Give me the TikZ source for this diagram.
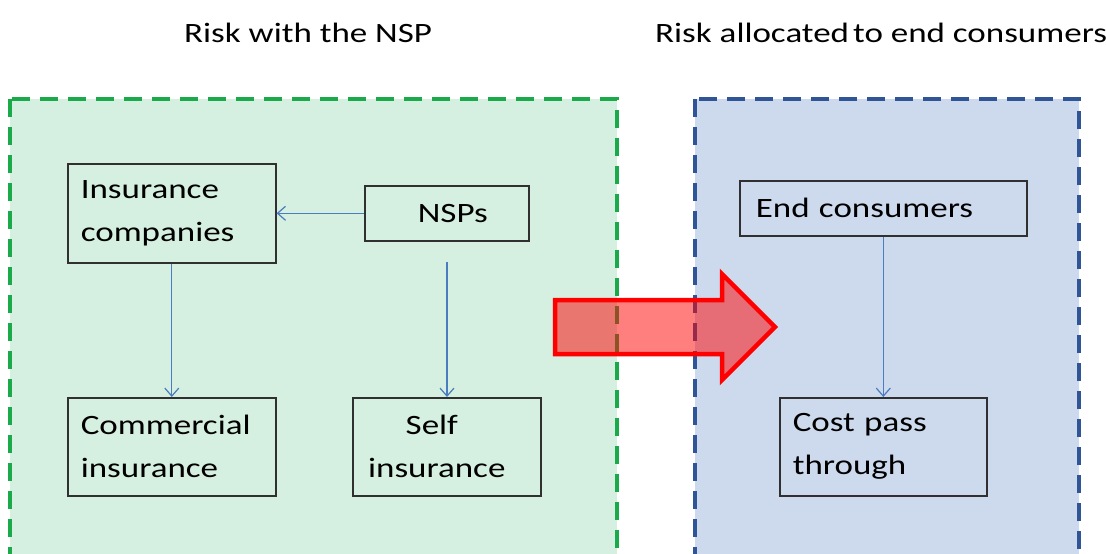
\documentclass[tikz,border=0pt]{standalone}
\usepackage{fontspec}
\setmainfont[FakeStretch=1.25]{Carlito}
\usetikzlibrary{arrows.meta}
\definecolor{greenbg}{HTML}{D5EFE0}
\definecolor{greenln}{HTML}{1AAA4A}
\definecolor{bluebg}{HTML}{CDD9EC}
\definecolor{blueln}{HTML}{2F5597}
\definecolor{conn}{HTML}{4A7CC0}
\definecolor{boxln}{HTML}{303030}
\tikzset{
  region/.style={line width=3.5pt, dash pattern=on 18pt off 10pt},
  itembox/.style={draw=boxln, line width=1.6pt, rectangle, inner ysep=0pt,
    font=\fontsize{28}{43}\selectfont, anchor=north west},
  conn/.style={draw=conn, line width=1.2pt, -{Straight Barb[length=8pt,width=14pt,line width=1.2pt]}},
  title/.style={font=\fontsize{28}{34}\selectfont, anchor=base west, inner sep=0pt}
}
\begin{document}
\begin{tikzpicture}[x=1pt,y=-1pt]
\useasboundingbox (0,0) rectangle (1106,554);
\fill[white] (0,0) rectangle (1106,554);
% regions
\draw[region, fill=greenbg, draw=greenln] (10,99) rectangle (617,580);
\draw[region, fill=bluebg, draw=blueln] (695,99) rectangle (1079,580);
% titles
\node[title] (t1) at (184,42) {Risk with the NSP};
\node[title] (t2) at (655,42) {Risk allocated\hspace{4pt}to end consumers};
% boxes
\node[itembox, minimum width=208pt, minimum height=99pt, text width=182pt, inner xsep=13pt, align=left] (ins) at (67,163) {Insurance\\companies};
\node[itembox, minimum width=164pt, minimum height=55pt, text width=150pt, inner xsep=7pt, align=center] (nsp) at (364,185) {\hspace*{12pt}NSPs};
\node[itembox, minimum width=208pt, minimum height=98pt, text width=182pt, inner xsep=13pt, align=left] (com) at (67,397) {Commercial\\insurance};
\node[itembox, minimum width=188pt, minimum height=98pt, text width=174pt, inner xsep=7pt, align=center] (self) at (352,397) {\hspace*{-30pt}Self\\\hspace*{-20pt}insurance};
\node[itembox, minimum width=287pt, minimum height=55pt, text width=255pt, inner xsep=16pt, align=left] (end) at (739,180) {End consumers};
\node[itembox, minimum width=207pt, minimum height=98pt, text width=181pt, inner xsep=13pt, align=left] (cost) at (779,397) {Cost pass\\through};
% connectors
\coordinate (nspdown) at (447,262);
\draw[conn] (nsp.west) -- (ins.east);
\draw[conn] (ins.south) -- (com.north);
\draw[conn] (nspdown) -- (nspdown |- self.north);
\draw[conn] (end.south) -- (cost.north);
% big red arrow
\draw[draw=red, line width=4.5pt, fill=red, fill opacity=0.5, line join=miter, miter limit=10]
  (555,300) -- (722,300) -- (722,274) -- (775,327) -- (722,380) -- (722,354) -- (555,354) -- cycle;
\end{tikzpicture}
\end{document}
